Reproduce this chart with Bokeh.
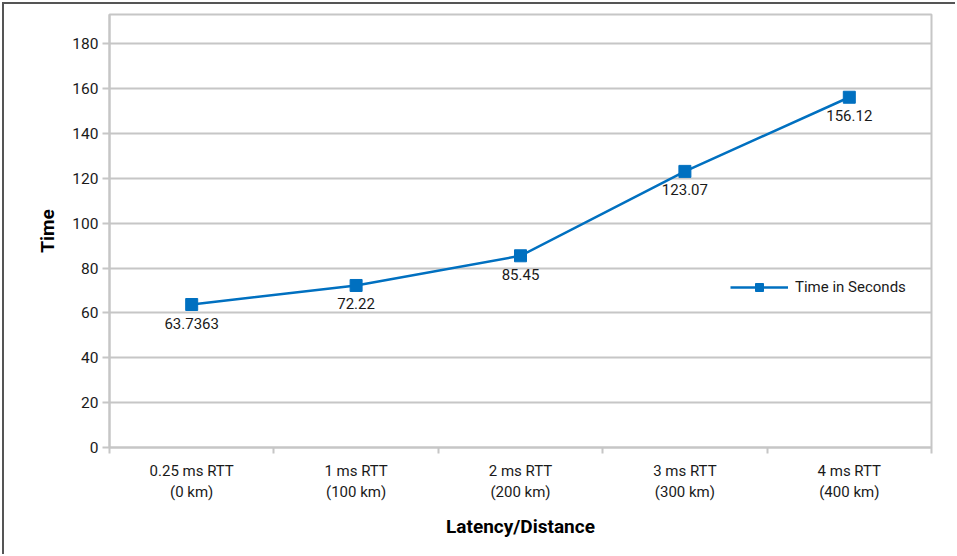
from bokeh.plotting import figure
from bokeh.models import (LinearAxis, FixedTicker, SingleIntervalTicker, Range1d,
                          ColumnDataSource, Legend, LegendItem)
from bokeh.core.properties import value
from bokeh.embed import file_html
from bokeh.resources import INLINE

# ---- data ----
categories = ["0.25 ms RTT\n(0 km)", "1 ms RTT\n(100 km)", "2 ms RTT\n(200 km)",
              "3 ms RTT\n(300 km)", "4 ms RTT\n(400 km)"]
times = [63.7363, 72.22, 85.45, 123.07, 156.12]
time_labels = ["63.7363", "72.22", "85.45", "123.07", "156.12"]
series_name = "Time in Seconds"
x_title = "Latency/Distance"
y_title = "Time"

FONT = "Roboto"
GRID = "#c6c6c6"
BLUE = "#0070c0"
TXT = "#1a1a1a"
FS = "15px"

src = ColumnDataSource(dict(x=categories, y=times, lab=time_labels))

p = figure(x_range=categories, y_range=Range1d(0, 193),
           width=953, height=552,
           min_border_left=105, min_border_right=26,
           min_border_top=10, min_border_bottom=109,
           output_backend="svg", toolbar_location=None,
           background_fill_color="white", border_fill_color="white")

# outer chart border (top and left edges visible in the reference)
p.styles = {"margin-left": "2px", "margin-top": "2px",
            "border-left": "2px solid #555555", "border-top": "2px solid #555555"}

p.outline_line_color = GRID
p.outline_line_width = 2

# grid
p.xgrid.grid_line_color = None
p.ygrid.grid_line_color = GRID
p.ygrid.grid_line_width = 2

# y axis
ya = p.yaxis[0]
ya.ticker = SingleIntervalTicker(interval=20)
ya.axis_line_color = GRID
ya.axis_line_width = 2
ya.major_tick_line_color = GRID
ya.major_tick_line_width = 2
ya.major_tick_out = 7
ya.major_tick_in = 0
ya.minor_tick_line_color = None
ya.major_label_text_font = FONT
ya.major_label_text_font_size = "15.5px"
ya.major_label_text_color = TXT
ya.major_label_standoff = 4
ya.axis_label = y_title
ya.axis_label_text_font = FONT
ya.axis_label_text_font_size = "19px"
ya.axis_label_text_font_style = "bold"
ya.axis_label_text_color = "black"
ya.axis_label_standoff = 10

# x axis (categorical labels)
xa = p.xaxis[0]
xa.axis_line_color = None
xa.major_tick_line_color = None
xa.minor_tick_line_color = None
xa.major_label_text_font = FONT
xa.major_label_text_font_size = FS
xa.major_label_text_color = TXT
xa.major_label_standoff = 2
xa.axis_label = x_title
xa.axis_label_text_font = FONT
xa.axis_label_text_font_size = "19px"
xa.axis_label_text_font_style = "bold"
xa.axis_label_text_color = "black"
xa.axis_label_standoff = 11

# boundary tick marks between categories
bounds = list(range(len(categories) + 1))
tick_axis = LinearAxis(ticker=FixedTicker(ticks=bounds),
                       major_label_overrides={b: "" for b in bounds})
tick_axis.axis_line_color = GRID
tick_axis.axis_line_width = 2
tick_axis.major_tick_line_color = GRID
tick_axis.major_tick_line_width = 2
tick_axis.major_tick_out = 6
tick_axis.major_tick_in = 0
tick_axis.minor_tick_line_color = None
tick_axis.major_label_text_font_size = "4px"
tick_axis.major_label_standoff = 0
p.add_layout(tick_axis, "below")
p.below = [tick_axis, xa]

# series
r_line = p.line("x", "y", source=src, line_color=BLUE, line_width=2.5)
r_pts = p.scatter("x", "y", source=src, marker="square", size=12,
                  fill_color=BLUE, line_color=BLUE)

p.text("x", "y", text="lab", source=src, text_align="center", text_baseline="top",
       y_offset=13, text_font=value(FONT), text_font_size=FS, text_color=TXT)

legend = Legend(items=[LegendItem(label=series_name, renderers=[r_line, r_pts])],
                location=(621, 150), orientation="vertical",
                glyph_width=58, glyph_height=20, label_standoff=7,
                padding=0, margin=0, spacing=0,
                border_line_color=None, background_fill_alpha=0,
                label_text_font=FONT, label_text_font_size=FS,
                label_text_color=TXT)
p.add_layout(legend, "center")

open("out.html", "w").write(file_html(p, INLINE))
